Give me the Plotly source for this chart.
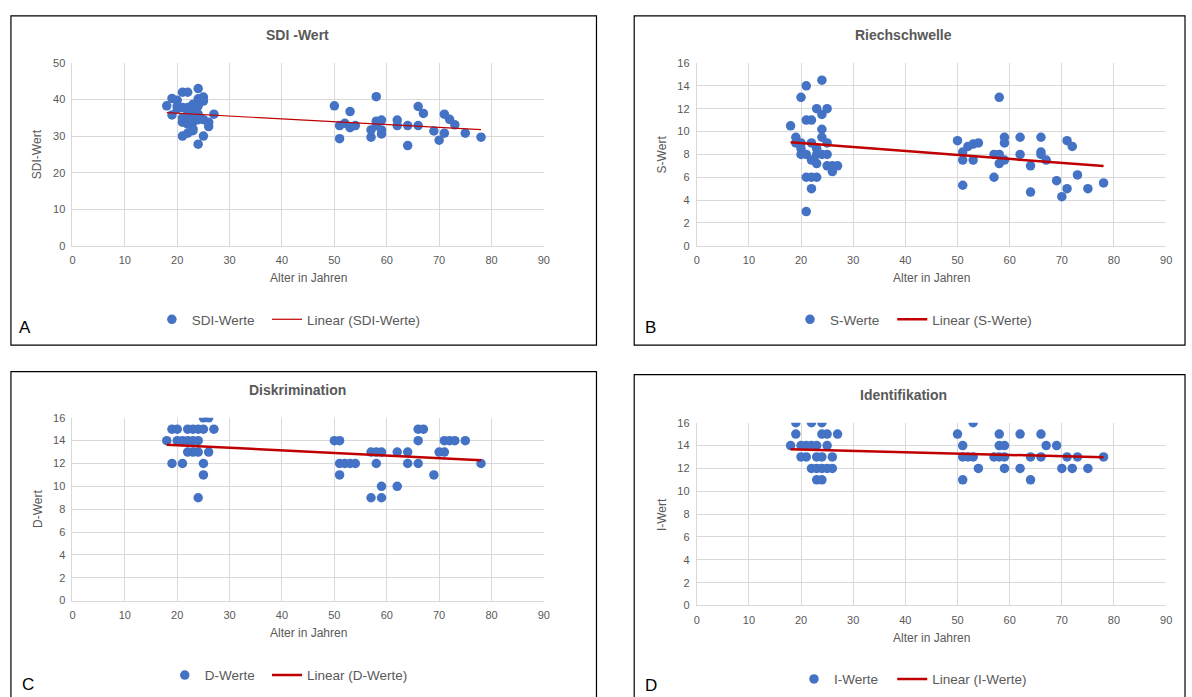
import numpy as np
import plotly.graph_objects as go

# ---------------- data ----------------
# Panel A: SDI-Werte
sdi_age = [18, 19, 19, 20, 20, 20, 21, 21, 21, 21, 21, 22, 22, 22, 22, 22, 22, 23, 23, 23, 23, 23, 23,
           24, 24, 24, 24, 24, 24, 25, 25, 25, 25, 26, 26, 27,
           50, 51, 51, 52, 53, 53, 54, 57, 57, 58, 58, 58, 59, 59, 59, 62, 62, 64, 64, 66, 66, 67,
           69, 70, 71, 71, 72, 73, 75, 78]
sdi_val = [38.3, 40.3, 35.8, 39.8, 37.5, 38.3, 42.0, 37.8, 33.8, 30.0, 35.0, 42.0, 37.8, 36.0, 33.3, 30.8, 34.0,
           38.7, 36.5, 33.8, 32.0, 35.0, 31.5, 43.0, 40.2, 38.3, 34.5, 36.0, 27.8, 40.7, 39.6, 34.5, 30.0,
           33.8, 32.6, 36.0,
           38.3, 32.9, 29.3, 33.5, 36.7, 32.3, 32.9, 31.7, 29.7, 40.8, 34.1, 32.9, 34.4, 31.7, 30.6, 34.4,
           32.9, 32.9, 27.4, 38.1, 32.9, 36.2, 31.4, 28.9, 36.0, 30.8, 34.6, 33.1, 30.8, 29.7]

# Panel B: S-Werte
s_age = [24, 21, 20, 23, 25, 24, 21, 22, 18, 24, 24, 19, 19, 20, 22, 25, 23, 20, 20, 21, 23, 24, 25,
         22, 23, 25, 26, 27, 26, 21, 22, 23, 22, 21,
         58, 50, 51, 51, 51, 52, 53, 54, 53, 57, 57, 58, 58, 59, 59, 59, 62, 62, 64, 64, 66, 66, 66,
         67, 69, 70, 71, 71, 72, 73, 75, 78]
s_val = [14.5, 14.0, 13.0, 12.0, 12.0, 11.5, 11.0, 11.0, 10.5, 10.2, 9.5, 9.5, 9.0, 9.0, 9.0, 9.0, 8.5, 8.5,
         8.0, 8.0, 8.0, 8.0, 8.0, 7.5, 7.2, 7.0, 7.0, 7.0, 6.5, 6.0, 6.0, 6.0, 5.0, 3.0,
         13.0, 9.2, 8.2, 7.5, 5.3, 8.7, 8.9, 9.0, 7.5, 8.0, 6.0, 8.0, 7.2, 9.5, 9.0, 7.5, 9.5, 8.0,
         7.0, 4.7, 9.5, 8.2, 8.0, 7.5, 5.7, 4.3, 9.2, 5.0, 8.7, 6.2, 5.0, 5.5]

# Panel C: D-Werte
d_age = [25, 26, 19, 20, 22, 23, 24, 25, 27, 18, 20, 21, 22, 23, 24, 22, 23, 24, 26, 19, 21, 25, 25, 24,
         66, 67, 50, 51, 66, 71, 72, 73, 75, 57, 58, 59, 62, 64, 70, 71, 51, 52, 53, 54, 58, 64, 66,
         78, 51, 69, 59, 62, 57, 59]
d_val = [16, 16, 15, 15, 15, 15, 15, 15, 15, 14, 14, 14, 14, 14, 14, 13, 13, 13, 13, 12, 12, 12, 11, 9,
         15, 15, 14, 14, 14, 14, 14, 14, 14, 13, 13, 13, 13, 13, 13, 13, 12, 12, 12, 12, 12, 12, 12,
         12, 11, 11, 10, 10, 9, 9]

# Panel D: I-Werte
i_age = [19, 22, 24, 19, 24, 25, 27, 18, 20, 21, 22, 23, 25, 20, 21, 23, 24, 26, 22, 23, 24, 25, 26, 23, 24,
         53, 50, 58, 62, 66, 51, 58, 59, 67, 69, 51, 52, 53, 57, 58, 59, 64, 66, 71, 73, 78,
         54, 59, 62, 70, 72, 75, 51, 64]
i_val = [16, 16, 16, 15, 15, 15, 15, 14, 14, 14, 14, 14, 14, 13, 13, 13, 13, 13, 12, 12, 12, 12, 12, 11, 11,
         16, 15, 15, 15, 15, 14, 14, 14, 14, 14, 13, 13, 13, 13, 13, 13, 13, 13, 13, 13, 13,
         12, 12, 12, 12, 12, 12, 11, 11]

x_ticks = [0, 10, 20, 30, 40, 50, 60, 70, 80, 90]

# ---------------- layout helpers ----------------
W, H = 1192, 697
def fx(x):
    return x / W
def fy(y):
    return 1 - y / H

TXT = "#595959"
FONT = "Liberation Sans, Arial, sans-serif"
BLUE = "#4472C4"
RED = "#C00000"

panels = [
    dict(key="1", ages=sdi_age, vals=sdi_val, name="SDI-Werte", title="SDI -Wert", ytitle="SDI-Wert",
         ymax=50, dtick=10, x0=70, x1=545, ytop=58, ybot=244, lw=1.2, title_y=30,
         box=(8, 10, 598, 345), letter="A", letter_xy=(22, 327),
         leg_y=319, leg_x1=150, leg_x2=266),
    dict(key="2", ages=s_age, vals=s_val, name="S-Werte", title="Riechschwelle", ytitle="S-Wert",
         ymax=16, dtick=2, x0=699, x1=1172, ytop=58, ybot=244, lw=2.5, title_y=30,
         box=(636, 10, 1191, 345), letter="B", letter_xy=(652, 327),
         leg_y=319, leg_x1=793, leg_x2=896),
    dict(key="3", ages=d_age, vals=d_val, name="D-Werte", title="Diskrimination", ytitle="D-Wert",
         ymax=16, dtick=2, x0=70, x1=545, ytop=419, ybot=605, lw=2.5, title_y=391,
         box=(8, 372, 598, 705), letter="C", letter_xy=(25, 690),
         leg_y=681, leg_x1=163, leg_x2=266),
    dict(key="4", ages=i_age, vals=i_val, name="I-Werte", title="Identifikation", ytitle="I-Wert",
         ymax=16, dtick=2, x0=699, x1=1172, ytop=424, ybot=610, lw=2.5, title_y=396,
         box=(636, 375, 1191, 705), letter="D", letter_xy=(653, 691),
         leg_y=685, leg_x1=797, leg_x2=896),
]

fig = go.Figure()
annotations = []
shapes = []
layout_extra = {}
leg_idx = 0

def legend_spec(x, y):
    return dict(orientation="h", x=fx(x), y=fy(y), xanchor="left", yanchor="middle",
                xref="paper", yref="paper", font=dict(family=FONT, size=13.5, color=TXT),
                bgcolor="rgba(0,0,0,0)", borderwidth=0, itemclick=False, itemdoubleclick=False)

for p in panels:
    k = p["key"]
    xa = "x" if k == "1" else "x" + k
    ya = "y" if k == "1" else "y" + k

    ages = np.array(p["ages"], dtype=float)
    vals = np.array(p["vals"], dtype=float)
    slope, icpt = np.polyfit(ages, vals, 1)
    tx = np.array([ages.min(), ages.max()])
    ty = slope * tx + icpt

    leg_idx += 1
    leg_a = "legend" if leg_idx == 1 else "legend%d" % leg_idx
    layout_extra[leg_a] = legend_spec(p["leg_x1"], p["leg_y"])
    leg_idx += 1
    leg_b = "legend%d" % leg_idx
    layout_extra[leg_b] = legend_spec(p["leg_x2"], p["leg_y"])

    fig.add_trace(go.Scatter(x=ages, y=vals, mode="markers", name=p["name"],
                             marker=dict(color=BLUE, size=9.5, line=dict(width=0)),
                             xaxis=xa, yaxis=ya, legend=leg_a))
    fig.add_trace(go.Scatter(x=tx, y=ty, mode="lines", name="Linear (" + p["name"] + ")",
                             line=dict(color=RED, width=p["lw"]),
                             xaxis=xa, yaxis=ya, legend=leg_b))

    axis_common = dict(showgrid=True, gridcolor="#D9D9D9", gridwidth=1, zeroline=False,
                       showline=True, linecolor="#D9D9D9", linewidth=1, ticks="",
                       tickfont=dict(family=FONT, size=11, color=TXT), fixedrange=True)
    xname = "xaxis" if k == "1" else "xaxis" + k
    yname = "yaxis" if k == "1" else "yaxis" + k
    layout_extra[xname] = dict(axis_common, domain=[fx(p["x0"]), fx(p["x1"])], range=[0, 90],
                               tickvals=x_ticks, anchor=ya, ticklabelstandoff=4)
    layout_extra[yname] = dict(axis_common, domain=[fy(p["ybot"]), fy(p["ytop"])],
                               range=[0, p["ymax"]], dtick=p["dtick"], tick0=0, anchor=xa,
                               ticklabelstandoff=4)

    xc = (p["x0"] + p["x1"]) / 2
    bx0, by0, bx1, by1 = p["box"]
    # chart title
    annotations.append(dict(text="<b>" + p["title"] + "</b>", x=fx((bx0 + bx1) / 2 - 6),
                            y=fy(p["title_y"]), xref="paper", yref="paper", showarrow=False,
                            xanchor="center", yanchor="middle",
                            font=dict(family=FONT, size=14, color=TXT)))
    # x axis title
    annotations.append(dict(text="Alter in Jahren", x=fx(xc), y=fy(p["ybot"] + 33), xref="paper",
                            yref="paper", showarrow=False, xanchor="center", yanchor="middle",
                            font=dict(family=FONT, size=12, color=TXT)))
    # y axis title
    annotations.append(dict(text=p["ytitle"], x=fx(p["x0"] - 35), y=fy((p["ytop"] + p["ybot"]) / 2),
                            xref="paper", yref="paper", showarrow=False, textangle=-90,
                            xanchor="center", yanchor="middle",
                            font=dict(family=FONT, size=12, color=TXT)))
    # panel letter
    annotations.append(dict(text=p["letter"], x=fx(p["letter_xy"][0]), y=fy(p["letter_xy"][1]),
                            xref="paper", yref="paper", showarrow=False, xanchor="center",
                            yanchor="middle", font=dict(family=FONT, size=17, color="black")))
    shapes.append(dict(type="rect", xref="paper", yref="paper", x0=fx(bx0), x1=fx(bx1),
                       y0=fy(by1), y1=fy(by0), line=dict(color="black", width=1.2),
                       fillcolor="rgba(0,0,0,0)", layer="below"))

fig.update_layout(width=W, height=H, margin=dict(l=0, r=0, t=0, b=0),
                  paper_bgcolor="white", plot_bgcolor="white",
                  annotations=annotations, shapes=shapes, showlegend=True,
                  font=dict(family=FONT, color=TXT), **layout_extra)

fig.write_html("out.html", config=dict(displayModeBar=False),
               post_script="document.body.style.margin='0';document.body.style.overflow='hidden';")
